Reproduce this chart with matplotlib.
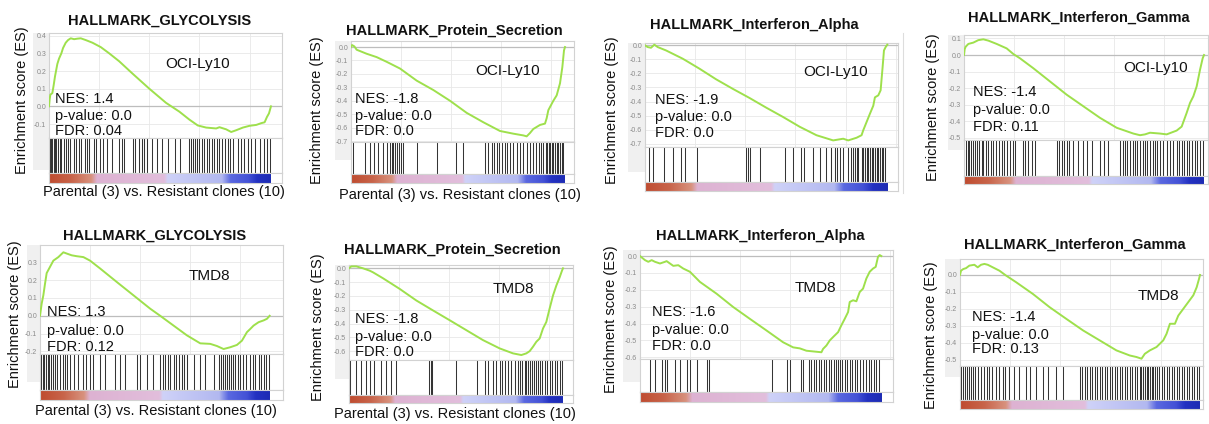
import matplotlib
matplotlib.use("Agg")
import matplotlib.pyplot as plt
from matplotlib.colors import LinearSegmentedColormap
from matplotlib.patches import Rectangle
from matplotlib.lines import Line2D
import numpy as np

plt.rcParams['font.family'] = ['Liberation Sans', 'DejaVu Sans']

# ---------------- data ----------------
titles = ["HALLMARK_GLYCOLYSIS", "HALLMARK_Protein_Secretion",
          "HALLMARK_Interferon_Alpha", "HALLMARK_Interferon_Gamma",
          "HALLMARK_GLYCOLYSIS", "HALLMARK_Protein_Secretion",
          "HALLMARK_Interferon_Alpha", "HALLMARK_Interferon_Gamma"]
cell_lines = ["OCI-Ly10", "OCI-Ly10", "OCI-Ly10", "OCI-Ly10",
              "TMD8", "TMD8", "TMD8", "TMD8"]
nes = ["1.4", "-1.8", "-1.9", "-1.4", "1.3", "-1.8", "-1.6", "-1.4"]
pvals = ["0.0", "0.0", "0.0", "0.0", "0.0", "0.0", "0.0", "0.0"]
fdr = ["0.04", "0.0", "0.0", "0.11", "0.12", "0.0", "0.0", "0.13"]
n_genes = [664, 642, 725, 720, 688, 642, 725, 718]
show_xlabel = [True, True, False, False, True, True, False, False]
xlabel_text = "Parental (3) vs. Resistant clones (10)"
ylabel_text = "Enrichment score (ES)"

# running enrichment score (rank, ES)
es1 = [(0, 0.0), (2, 0.04), (4, 0.066), (10, 0.075), (14, 0.12), (18, 0.17), (25, 0.24),
       (30, 0.27), (37, 0.30), (42, 0.33), (50, 0.36), (57, 0.375), (65, 0.385), (75, 0.38),
       (85, 0.383), (95, 0.385), (110, 0.375), (130, 0.36), (155, 0.335), (180, 0.30),
       (210, 0.255), (250, 0.185), (300, 0.10), (350, 0.02), (390, -0.03), (420, -0.075),
       (445, -0.108), (470, -0.12), (500, -0.125), (510, -0.118), (530, -0.13), (545, -0.145),
       (560, -0.135), (580, -0.12), (600, -0.11), (620, -0.105), (635, -0.095), (645, -0.09),
       (652, -0.06), (658, -0.04), (664, 0.0)]
es2 = [(0, 0.0), (3, 0.015), (10, 0.005), (17, -0.02), (47, -0.05), (77, -0.075), (107, -0.11),
       (147, -0.16), (197, -0.25), (247, -0.32), (297, -0.40), (347, -0.49), (397, -0.56),
       (447, -0.625), (487, -0.645), (517, -0.658), (527, -0.665), (537, -0.64), (547, -0.61),
       (567, -0.58), (582, -0.57), (587, -0.53), (592, -0.47), (607, -0.40), (617, -0.36),
       (627, -0.27), (634, -0.15), (639, -0.025), (642, 0.0)]
es3 = [(0, 0.0), (8, -0.012), (18, -0.017), (28, 0.005), (38, -0.012), (63, -0.036),
       (113, -0.095), (163, -0.166), (213, -0.242), (263, -0.31), (313, -0.375), (363, -0.444),
       (413, -0.51), (463, -0.58), (513, -0.64), (563, -0.677), (593, -0.665), (608, -0.677),
       (633, -0.658), (648, -0.64), (653, -0.605), (663, -0.546), (673, -0.487), (683, -0.43),
       (688, -0.37), (698, -0.356), (705, -0.32), (711, -0.154), (715, -0.036), (720, -0.012),
       (725, 0.005)]
es4 = [(0, 0.0), (2, 0.035), (5, 0.05), (13, 0.067), (28, 0.075), (43, 0.09), (58, 0.095),
       (73, 0.087), (98, 0.067), (128, 0.04), (148, 0.006), (168, -0.02), (208, -0.08),
       (258, -0.16), (308, -0.24), (358, -0.31), (408, -0.38), (458, -0.44), (508, -0.475),
       (528, -0.485), (543, -0.48), (558, -0.47), (588, -0.475), (608, -0.48), (638, -0.457),
       (653, -0.433), (668, -0.35), (678, -0.29), (688, -0.25), (698, -0.19), (708, -0.09),
       (716, -0.02), (720, 0.0)]
es5 = [(0, 0.0), (5, 0.068), (10, 0.115), (15, 0.18), (20, 0.24), (30, 0.275), (40, 0.31),
       (55, 0.33), (70, 0.357), (80, 0.35), (95, 0.34), (110, 0.335), (130, 0.33), (150, 0.31),
       (180, 0.266), (230, 0.19), (280, 0.115), (330, 0.04), (360, 0.0), (400, -0.055),
       (440, -0.11), (480, -0.155), (510, -0.158), (530, -0.17), (550, -0.187), (570, -0.177),
       (590, -0.164), (605, -0.14), (620, -0.092), (630, -0.074), (640, -0.055), (655, -0.036),
       (670, -0.026), (680, -0.017), (688, 0.0)]
es6 = [(0, 0.0), (7, 0.014), (22, 0.014), (42, 0.0), (62, -0.017), (72, -0.029), (102, -0.072),
       (152, -0.149), (202, -0.233), (252, -0.305), (302, -0.376), (352, -0.448), (402, -0.52),
       (452, -0.58), (492, -0.616), (517, -0.628), (532, -0.616), (542, -0.60), (552, -0.568),
       (562, -0.532), (572, -0.508), (582, -0.436), (592, -0.388), (602, -0.29), (612, -0.197),
       (622, -0.125), (632, -0.065), (639, -0.017), (642, 0.0)]
es7 = [(0, 0.0), (15, -0.024), (25, -0.034), (35, -0.024), (45, -0.034), (60, -0.044),
       (75, -0.034), (80, -0.03), (90, -0.044), (100, -0.058), (115, -0.054), (130, -0.074),
       (150, -0.093), (180, -0.153), (230, -0.223), (280, -0.302), (330, -0.372), (380, -0.441),
       (430, -0.511), (460, -0.541), (480, -0.547), (500, -0.561), (530, -0.567), (545, -0.57),
       (550, -0.55), (560, -0.53), (570, -0.50), (580, -0.48), (595, -0.451), (605, -0.41),
       (615, -0.372), (625, -0.332), (630, -0.272), (640, -0.262), (650, -0.268), (660, -0.213),
       (670, -0.193), (680, -0.133), (690, -0.093), (700, -0.074), (708, -0.064), (715, -0.004),
       (720, 0.006), (725, 0.0)]
es8 = [(0, 0.0), (3, 0.025), (10, 0.035), (18, 0.04), (28, 0.055), (43, 0.06), (53, 0.045),
       (63, 0.06), (73, 0.065), (83, 0.06), (98, 0.045), (118, 0.025), (138, -0.004),
       (168, -0.043), (218, -0.112), (268, -0.19), (318, -0.259), (368, -0.327), (418, -0.386),
       (468, -0.445), (508, -0.475), (528, -0.484), (543, -0.494), (553, -0.465), (568, -0.445),
       (588, -0.425), (608, -0.386), (618, -0.347), (628, -0.288), (643, -0.288), (653, -0.24),
       (668, -0.2), (683, -0.16), (698, -0.12), (708, -0.073), (715, -0.024), (718, 0.0)]

# gene-set member positions in the ranked list
hits1 = [2, 6, 10, 14, 18, 22, 27, 32, 36, 44, 50, 57, 64, 74, 82, 90, 96, 107, 114, 120,
         134, 140, 152, 162, 174, 187, 210, 217, 224, 250, 257, 270, 277, 284, 292, 307, 322,
         337, 357, 377, 392, 420, 426, 432, 438, 444, 450, 457, 464, 472, 480, 488, 494, 502,
         510, 518, 526, 534, 542, 550, 564, 574, 582, 594, 604, 617, 632, 642, 652, 660]
hits2 = [5, 42, 57, 69, 82, 95, 109, 117, 123, 127, 133, 139, 145, 150, 157, 197, 257, 315,
         335, 402, 412, 422, 429, 437, 445, 453, 461, 469, 477, 487, 497, 507, 517, 527, 537,
         547, 555, 563, 571, 577, 585, 589, 593, 597, 602, 607, 612, 617, 622, 627, 632, 637]
hits3 = [13, 23, 58, 83, 108, 121, 155, 303, 308, 313, 343, 418, 443, 468, 475, 503, 523,
         543, 558, 568, 575, 583, 593, 608, 615, 621, 628, 633, 638, 648, 653, 658, 663, 668,
         673, 678, 683, 688, 693, 698, 703, 708, 713, 718]
hits4 = [5, 11, 16, 21, 28, 34, 40, 46, 53, 58, 66, 73, 80, 88, 96, 104, 113, 120, 128, 138,
         146, 153, 176, 183, 193, 203, 213, 278, 286, 293, 300, 308, 316, 328, 343, 356, 368,
         383, 408, 420, 433, 468, 476, 483, 490, 498, 506, 513, 520, 528, 536, 543, 550, 558,
         566, 573, 580, 588, 598, 608, 618, 628, 638, 646, 653, 660, 668, 676, 684, 692, 700,
         708, 716]
hits5 = [3, 8, 13, 18, 23, 28, 33, 38, 45, 52, 60, 68, 75, 80, 90, 102, 115, 128, 138, 150,
         160, 180, 195, 225, 240, 255, 290, 300, 320, 340, 360, 368, 375, 382, 390, 400, 408,
         415, 425, 432, 440, 460, 480, 495, 520, 535, 542, 548, 555, 560, 566, 572, 578, 585,
         592, 600, 608, 618, 628, 638, 645, 655, 662, 670, 678, 685]
hits6 = [2, 20, 35, 52, 62, 74, 97, 112, 127, 142, 240, 245, 250, 322, 384, 407, 417, 432,
         442, 452, 460, 467, 477, 487, 497, 507, 514, 520, 527, 532, 538, 544, 550, 556, 562,
         568, 574, 580, 587, 594, 602, 610, 617, 624, 632, 638]
hits7 = [30, 45, 65, 75, 80, 105, 120, 140, 150, 170, 200, 208, 398, 442, 452, 485, 490, 508,
         515, 522, 530, 538, 545, 552, 560, 568, 575, 582, 588, 595, 602, 608, 615, 622, 630,
         638, 645, 652, 660, 670, 680, 688, 695, 702, 710, 718]
hits8 = [4, 10, 16, 22, 28, 34, 40, 46, 54, 63, 73, 80, 88, 96, 108, 118, 128, 136, 146, 163,
         178, 198, 208, 228, 248, 263, 288, 308, 360, 366, 373, 380, 388, 396, 403, 410, 418,
         426, 433, 440, 448, 456, 463, 470, 478, 486, 493, 500, 508, 516, 523, 530, 538, 543,
         548, 553, 558, 563, 568, 573, 578, 583, 588, 596, 603, 610, 618, 626, 633, 640, 648,
         656, 663, 670, 678, 686, 693, 700, 708, 715]

es_all = [es1, es2, es3, es4, es5, es6, es7, es8]
hits_all = [hits1, hits2, hits3, hits4, hits5, hits6, hits7, hits8]

yticks_all = [[-0.1, 0.0, 0.1, 0.2, 0.3, 0.4],
              [-0.7, -0.6, -0.5, -0.4, -0.3, -0.2, -0.1, 0.0],
              [-0.7, -0.6, -0.5, -0.4, -0.3, -0.2, -0.1, 0.0],
              [-0.5, -0.4, -0.3, -0.2, -0.1, 0.0, 0.1],
              [-0.2, -0.1, 0.0, 0.1, 0.2, 0.3],
              [-0.6, -0.5, -0.4, -0.3, -0.2, -0.1, 0.0],
              [-0.6, -0.5, -0.4, -0.3, -0.2, -0.1, 0.0],
              [-0.5, -0.4, -0.3, -0.2, -0.1, 0.0]]

# ---------------- layout (pixels, y from top) ----------------
W, H = 1209, 424
layout = [
    dict(L=49, R=282, T=33, B=138, Hb=173, C=183, ylim=(-0.179, 0.415), xmax=697,
         title=(160, 20), cell=(198, 63), sx=55, sy=(98, 115, 130), ylab=(22, 100), xlab=(164, 192), band=(33, 170)),
    dict(L=351, R=574, T=41, B=142, Hb=174, C=183, ylim=(-0.707, 0.045), xmax=669,
         title=(454, 30), cell=(508, 70), sx=355, sy=(98, 115, 130), ylab=(317, 110), xlab=(460, 195), band=(335, 160)),
    dict(L=645, R=898, T=43, B=147, Hb=182, C=191, ylim=(-0.724, 0.017), xmax=757,
         title=(754, 24), cell=(836, 71), sx=655, sy=(99, 116, 132), ylab=(612, 110), xlab=None, band=(628, 172)),
    dict(L=964, R=1208, T=35, B=140, Hb=176, C=184, ylim=(-0.514, 0.121), xmax=732,
         title=(1079, 17), cell=(1156, 67), sx=973, sy=(91, 109, 126), ylab=(933, 107), xlab=None, band=(948, 150)),
    dict(L=40, R=283, T=245, B=354, Hb=390, C=400, ylim=(-0.215, 0.398), xmax=728,
         title=(155, 235), cell=(209, 275), sx=47, sy=(311, 330, 346), ylab=(15, 314), xlab=(156, 411), band=(27, 382)),
    dict(L=349, R=573, T=265, B=360, Hb=395, C=403, ylim=(-0.664, 0.024), xmax=672,
         title=(452, 249), cell=(513, 288), sx=355, sy=(318, 336, 351), ylab=(318, 327), xlab=(455, 414), band=(335, 379)),
    dict(L=640, R=893, T=250, B=359, Hb=392, C=402, ylim=(-0.61, 0.036), xmax=760,
         title=(760, 235), cell=(815, 287), sx=652, sy=(311, 329, 345), ylab=(611, 319), xlab=None, band=(623, 382)),
    dict(L=960, R=1203, T=259, B=366, Hb=400, C=409, ylim=(-0.537, 0.094), xmax=727,
         title=(1075, 244), cell=(1158, 295), sx=972, sy=(316, 334, 348), ylab=(931, 335), xlab=None, band=(945, 377)),
]

cmap = LinearSegmentedColormap.from_list("rank", [
    (0.00, "#bf4c30"), (0.10, "#c8644a"), (0.19, "#d8927e"), (0.215, "#ddb2d2"),
    (0.52, "#e2bedc"), (0.535, "#cfd2f8"), (0.78, "#b2b8f0"), (0.82, "#5a68e0"),
    (0.90, "#4452d6"), (0.94, "#2432c2"), (1.00, "#1e2cb4")])

fig = plt.figure(figsize=(W / 100, H / 100), dpi=100)
fig.patch.set_facecolor("white")


def fx(px):
    return px / W


def fy(py):
    return 1 - py / H


def rect(L, R, top, bottom):
    return [fx(L), fy(bottom), (R - L) / W, (bottom - top) / H]


edge = "#d2d2d2"
ramp = np.linspace(0, 1, 256).reshape(1, -1)
FS = 10.5

for i in range(8):
    g = layout[i]
    N = n_genes[i]
    xs, ys = zip(*es_all[i])

    # light grey band behind the y tick labels
    bx0 = g["band"][0]
    fig.patches.append(Rectangle((fx(bx0), fy(g["band"][1])), (g["L"] - bx0) / W,
                                 (g["band"][1] - g["T"]) / H, transform=fig.transFigure,
                                 facecolor="#f0f0f0", edgecolor="none", zorder=-1))

    ax = fig.add_axes(rect(g["L"], g["R"], g["T"], g["B"]))
    ax.set_xlim(0, g["xmax"])
    ax.set_ylim(*g["ylim"])
    yt = yticks_all[i]
    ax.set_yticks(yt)
    ax.set_yticklabels([f"{v:.1f}" for v in yt])
    ax.set_xticks(np.arange(0, g["xmax"], 150))
    ax.set_xticklabels([])
    ax.tick_params(length=0, labelsize=5, labelcolor="#8a8a8a", pad=2)
    ax.grid(True, color="#e8e8e8", lw=0.6)
    ax.set_axisbelow(True)
    ax.axhline(0, color="#bdbdbd", lw=0.9, zorder=1)
    for s in ax.spines.values():
        s.set_color(edge)
        s.set_linewidth(0.8)
    ax.plot(xs, ys, color="#9ee04c", lw=1.4, zorder=3, solid_joinstyle="round")

    # hit bars
    ah = fig.add_axes(rect(g["L"], g["R"], g["B"], g["Hb"]))
    ah.set_xlim(0, g["xmax"])
    ah.set_ylim(0, 1)
    ah.vlines(hits_all[i], 0, 1, color="#111111", lw=0.75, alpha=0.85)
    ah.set_xticks([])
    ah.set_yticks([])
    for s in ah.spines.values():
        s.set_color(edge)
        s.set_linewidth(0.8)

    # ranked-list colour bar
    ac = fig.add_axes(rect(g["L"], g["R"], g["Hb"], g["C"]))
    ac.imshow(ramp, cmap=cmap, aspect="auto", extent=(0, N, 0, 1))
    ac.set_xlim(0, g["xmax"])
    ac.set_ylim(0, 1)
    ac.set_xticks([])
    ac.set_yticks([])
    for s in ac.spines.values():
        s.set_color(edge)
        s.set_linewidth(0.8)

    # texts
    fig.text(fx(g["title"][0]), fy(g["title"][1] + 5), titles[i], ha="center", va="baseline",
             fontsize=10.5, fontweight="bold", color="#111111")
    fig.text(fx(g["cell"][0]), fy(g["cell"][1] + 5), cell_lines[i], ha="center", va="baseline",
             fontsize=FS + 0.5, color="#111111")
    stats = [f"NES: {nes[i]}", f"p-value: {pvals[i]}", f"FDR: {fdr[i]}"]
    for s, yy in zip(stats, g["sy"]):
        fig.text(fx(g["sx"]), fy(yy + 5), s, ha="left", va="baseline", fontsize=FS,
                 color="#111111")
    fig.text(fx(g["ylab"][0]), fy(g["ylab"][1]), ylabel_text, rotation=90, ha="center",
             va="center", fontsize=FS, color="#111111")
    if show_xlabel[i]:
        fig.text(fx(g["xlab"][0]), fy(g["xlab"][1]), xlabel_text, ha="center", va="center",
                 fontsize=FS, color="#111111")

# thin frame line at the left of the top-right image
fig.add_artist(Line2D([fx(903), fx(903)], [fy(33), fy(193)], transform=fig.transFigure,
                      color="#dddddd", lw=0.8))

fig.savefig("out.png", dpi=100, facecolor="white")
